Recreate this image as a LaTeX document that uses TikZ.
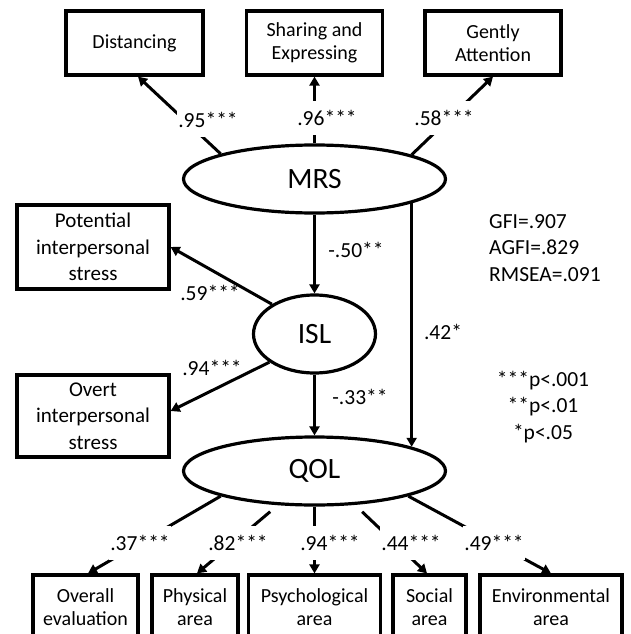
\documentclass[tikz,border=0pt]{standalone}
\usepackage{fontspec}
\setmainfont{Carlito}
\usetikzlibrary{arrows.meta,shapes.geometric}
\begin{document}
\begin{tikzpicture}[x=1pt,y=-1pt,
  box/.style={draw, line width=3.2pt, rectangle, inner sep=0pt, align=center, font=\fontsize{20}{23}\selectfont},
  lbox/.style={box, font=\fontsize{21}{26.5}\selectfont},
  lat/.style={draw, ellipse, line width=3.2pt, inner sep=0pt, font=\fontsize{29.5}{30}\selectfont},
  arr/.style={line width=3pt, -{Triangle[length=9pt,width=10pt]}},
  coef/.style={font=\fontsize{21.5}{26}\selectfont, inner sep=1pt},
  cut/.style={coef, fill=white, minimum height=34pt, inner xsep=1pt},
  note/.style={font=\fontsize{21.5}{26.5}\selectfont, inner sep=0pt},
]
\useasboundingbox (0,0) rectangle (630,634);
% top indicators
\node[box, minimum width=137pt, minimum height=64pt] (dist) at (134.5,43) {Distancing};
\node[box, minimum width=136pt, minimum height=64pt] (share) at (314.5,43) {Sharing and\\Expressing};
\node[box, minimum width=136pt, minimum height=64pt] (gent) at (493,43) {Gently\\Attention};
% latent variables
\node[lat, minimum width=262pt, minimum height=68pt] (mrs) at (314.5,179) {MRS};
\node[lat, minimum width=122pt, minimum height=78pt] (isl) at (314.5,334) {ISL};
\node[lat, minimum width=262pt, minimum height=68pt] (qol) at (314.5,471) {QOL};
% left indicators
\node[lbox, minimum width=152pt, minimum height=84pt] (pot) at (93,247) {Potential\\interpersonal\\stress};
\node[lbox, minimum width=152pt, minimum height=82pt] (overt) at (93,416) {Overt\\interpersonal\\stress};
% bottom indicators
\node[box, minimum width=105pt, minimum height=64pt] (overall) at (85.5,607) {Overall\\evaluation};
\node[box, minimum width=86pt, minimum height=64pt] (phys) at (195,607) {Physical\\area};
\node[box, minimum width=132pt, minimum height=64pt] (psych) at (314.5,607) {Psychological\\area};
\node[box, minimum width=73pt, minimum height=64pt] (social) at (429.5,607) {Social\\area};
\node[box, minimum width=142pt, minimum height=64pt] (env) at (551,607) {Environmental\\area};
% fit notes
\node[note, anchor=west, align=left] (fit) at (489,248) {GFI=.907\\AGFI=.829\\RMSEA=.091};
\node[note, align=center] (sig) at (543,407) {***p<.001\\**p<.01\\*p<.05};
% connectors
\draw[arr] (mrs.165.5) -- ([xshift=3.5pt]dist.south);
\draw[arr] (mrs.north) -- (share.south);
\draw[arr] (mrs.14.3) -- (gent.south);
\draw[arr] (mrs.south) -- (isl.north);
\draw[arr] (isl.145.4) -- (pot.east);
\draw[arr] (isl.212.8) -- ([yshift=5pt]overt.east);
\draw[arr] (isl.south) -- (qol.north);
\draw[arr] (mrs.-14.2) -- (qol.14.2);
\draw[arr] (qol.195.9) -- ([xshift=2.5pt]overall.north);
\draw[arr, shorten <=10pt] (qol.223.3) -- ([xshift=2pt]phys.north);
\draw[arr] (qol.south) -- (psych.north);
\draw[arr, shorten <=10pt] (qol.-40.5) -- ([xshift=-2.5pt]social.north);
\draw[arr] (qol.-15.3) -- (env.north);
% coefficients
\node[cut] (l95) at (208,120) {.95***};
\node[cut] (l96) at (327,118) {.96***};
\node[cut] (l58) at (444,118) {.58***};
\node[coef] (l50) at (356,250) {-.50**};
\node[coef] (l59) at (210,293) {.59***};
\node[coef] (l94a) at (212,368) {.94***};
\node[coef] (l33) at (360,397) {-.33**};
\node[coef] (l42) at (443,332) {.42*};
\node[cut] (l37) at (140,543) {.37***};
\node[cut] (l82) at (238,543) {.82***};
\node[cut] (l94) at (330,543) {.94***};
\node[cut] (l44) at (411,543) {.44***};
\node[cut] (l49) at (494,543) {.49***};
\end{tikzpicture}
\end{document}
